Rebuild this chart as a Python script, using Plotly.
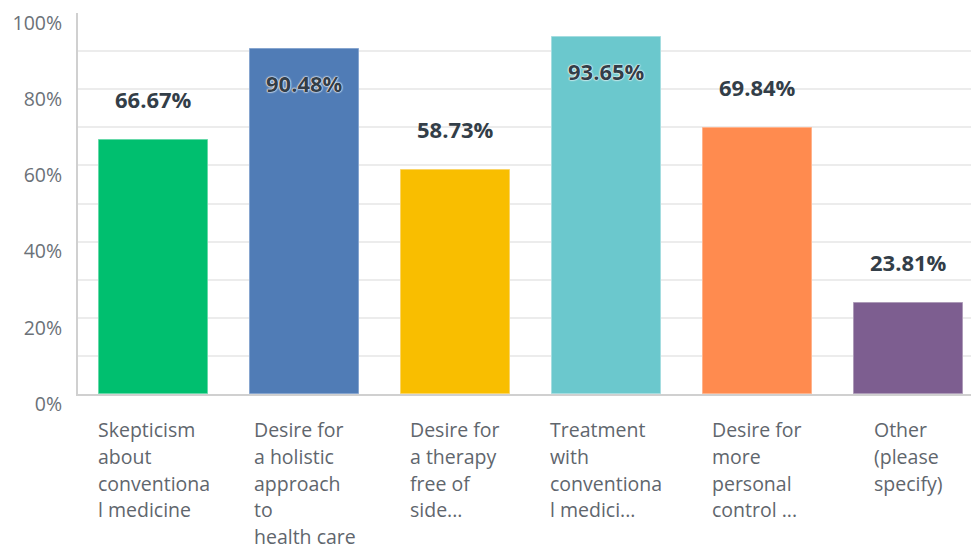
import plotly.graph_objects as go

# Survey responses: reasons for choosing the therapy (share of respondents, %)
categories = [
    "Skepticism<br>about<br>conventiona<br>l medicine",
    "Desire for<br>a holistic<br>approach<br>to<br>health care",
    "Desire for<br>a therapy<br>free of<br>side...",
    "Treatment<br>with<br>conventiona<br>l medici...",
    "Desire for<br>more<br>personal<br>control ...",
    "Other<br>(please<br>specify)",
]
values = [66.67, 90.48, 58.73, 93.65, 69.84, 23.81]
colors = ["#00BF6F", "#507CB6", "#F9BE00", "#6BC8CD", "#FF8B4F", "#7D5E90"]
edge_colors = ["#66d9a9", "#86a5cf", "#fbd566", "#a5dde0", "#ffb38c", "#ad9bb8"]
y_ticks = [0, 20, 40, 60, 80, 100]
y_tick_text = ["0%", "20%", "40%", "60%", "80%", "100%"]

FONT = "Open Sans"
x_pos = list(range(len(values)))

fig = go.Figure()
fig.add_trace(go.Bar(
    x=x_pos,
    y=values,
    width=0.722,
    marker=dict(color=colors, line=dict(color=edge_colors, width=1)),
    hoverinfo="skip",
))

annotations = []
for i, v in enumerate(values):
    inside = v > 85
    annotations.append(dict(
        x=i, y=v, xref="x", yref="y",
        text=f"{v:.2f}%",
        showarrow=False,
        yanchor="middle",
        yshift=-34 if inside else 41,
        font=dict(family=FONT, size=22, color="#333e48", weight="bold",
                  shadow="0 0 2px #ffffff, 0 0 2px #ffffff, 0 0 1px #ffffff" if inside else "none"),
    ))
    # outer font size sets the line pitch; inner span sets the glyph size
    annotations.append(dict(
        x=i, y=0, xref="x", yref="paper",
        text=f'<span style="font-size:19.5px">{categories[i]}</span>',
        showarrow=False,
        xanchor="center", yanchor="top",
        align="left",
        yshift=-20,
        font=dict(family=FONT, size=20.6, color="#5f666d"),
    ))

fig.update_layout(
    width=971, height=544,
    margin=dict(l=78, r=0, t=13, b=150),
    paper_bgcolor="white",
    plot_bgcolor="white",
    showlegend=False,
    bargap=0,
    annotations=annotations,
    xaxis=dict(
        range=[-0.5, 5.414],
        showticklabels=False,
        showgrid=False,
        zeroline=False,
        showline=True, linecolor="#d0d0d0", linewidth=2,
        ticks="",
        fixedrange=True,
    ),
    yaxis=dict(
        range=[0, 100],
        tickvals=y_ticks,
        ticktext=y_tick_text,
        showgrid=True, gridcolor="#ececec", gridwidth=2,
        minor=dict(dtick=10, showgrid=True, gridcolor="#ececec", gridwidth=2),
        zeroline=False,
        showline=True, linecolor="#d0d0d0", linewidth=2,
        ticks="",
        ticklabelshift=10,
        ticklabelstandoff=10,
        tickfont=dict(family=FONT, size=19.5, color="#6b7178"),
        fixedrange=True,
    ),
)

fig.write_html("out.html", config={"displayModeBar": False})
